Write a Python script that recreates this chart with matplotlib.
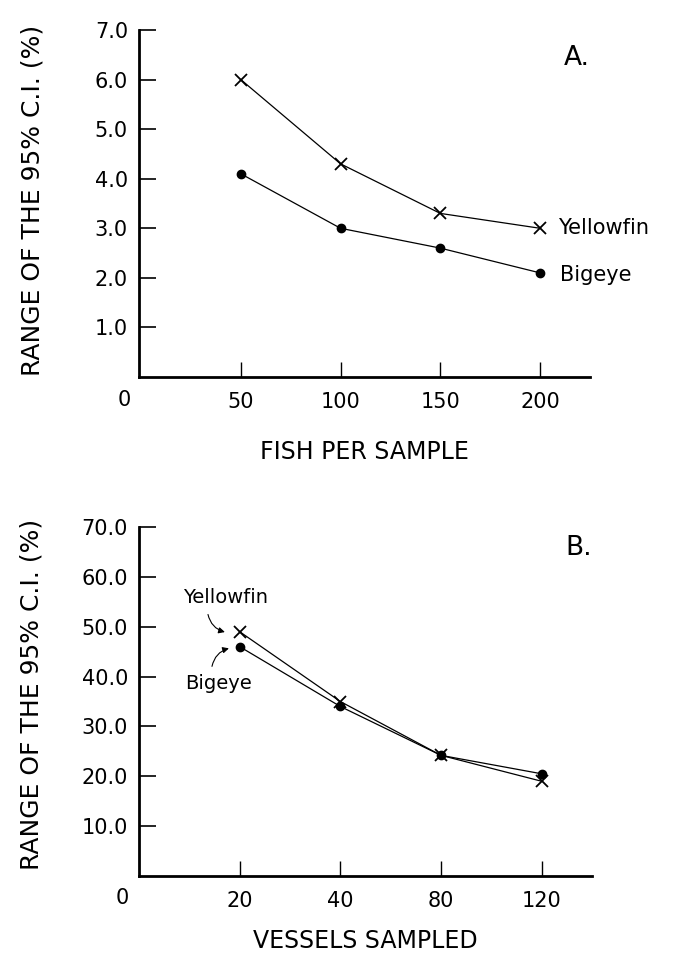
import matplotlib
matplotlib.use("Agg")
import matplotlib.pyplot as plt
import numpy as np

# Panel A data
fish_per_sample = [50, 100, 150, 200]
yellowfin_a = [6.0, 4.3, 3.3, 3.0]
bigeye_a = [4.1, 3.0, 2.6, 2.1]
yticks_a = [1.0, 2.0, 3.0, 4.0, 5.0, 6.0, 7.0]

# Panel B data
vessels_sampled = ["20", "40", "80", "120"]
yellowfin_b = [49.0, 35.0, 24.2, 19.0]
bigeye_b = [46.0, 34.0, 24.2, 20.5]
yticks_b = [10.0, 20.0, 30.0, 40.0, 50.0, 60.0, 70.0]

plt.rcParams['font.family'] = ['DejaVu Sans']
DPI = 100
fig = plt.figure(figsize=(6.8, 9.55), dpi=DPI)

W, H = 680, 955
def box(l, t, r, b):
    return [l / W, 1 - b / H, (r - l) / W, (b - t) / H]

axA = fig.add_axes(box(139, 30, 590, 377))
axB = fig.add_axes(box(139, 527, 592, 876))

TICK_FS = 15

def style(ax):
    for s in ['top', 'right']:
        ax.spines[s].set_visible(False)
    for s in ['left', 'bottom']:
        ax.spines[s].set_linewidth(2.0)
    ax.tick_params(axis='y', direction='in', length=12, width=1.2, pad=8, labelsize=TICK_FS)
    ax.tick_params(axis='x', direction='in', length=11, width=1.0, pad=11, labelsize=TICK_FS)

# ---- Panel A ----
axA.plot(fish_per_sample, yellowfin_a, color='black', lw=0.9, marker='x',
         markersize=9, markeredgewidth=1.3)
axA.plot(fish_per_sample, bigeye_a, color='black', lw=0.9, marker='o',
         markersize=6)
axA.set_xlim(-1, 225)
axA.set_ylim(0, 7.0)
axA.set_yticks(yticks_a)
axA.set_yticklabels([f"{v:.1f}" for v in yticks_a])
axA.set_xticks(fish_per_sample)
axA.set_xticklabels([str(v) for v in fish_per_sample])
style(axA)
axA.annotate("0", xy=(0, 0), xytext=(-17, -23), textcoords='offset pixels',
             ha='center', va='center', fontsize=TICK_FS)
axA.set_xlabel("FISH PER SAMPLE", fontsize=17, labelpad=20)
axA.set_ylabel("RANGE OF THE 95% C.I. (%)", fontsize=18)
axA.yaxis.set_label_coords(-0.21, 0.51)
axA.text(fish_per_sample[-1] + 9, yellowfin_a[-1], "Yellowfin",
         fontsize=15, ha='left', va='center')
axA.text(fish_per_sample[-1] + 10, bigeye_a[-1] - 0.05, "Bigeye",
         fontsize=15, ha='left', va='center')
axA.text(1.0, 0.92, "A.", transform=axA.transAxes, fontsize=19,
         ha='right', va='center')

# ---- Panel B ----
pos = np.arange(1, len(vessels_sampled) + 1)
axB.plot(pos, yellowfin_b, color='black', lw=0.9, marker='x',
         markersize=9, markeredgewidth=1.3)
axB.plot(pos, bigeye_b, color='black', lw=0.9, marker='o', markersize=6)
axB.set_xlim(0, 4.5)
axB.set_ylim(0, 70.0)
axB.set_yticks(yticks_b)
axB.set_yticklabels([f"{v:.1f}" for v in yticks_b])
axB.set_xticks(pos)
axB.set_xticklabels(vessels_sampled)
style(axB)
axB.annotate("0", xy=(0, 0), xytext=(-17, -22), textcoords='offset pixels',
             ha='center', va='center', fontsize=TICK_FS)
axB.set_xlabel("VESSELS SAMPLED", fontsize=17, labelpad=13)
axB.set_ylabel("RANGE OF THE 95% C.I. (%)", fontsize=18)
axB.yaxis.set_label_coords(-0.21, 0.52)
axB.text(1.0, 0.94, "B.", transform=axB.transAxes, fontsize=19,
         ha='right', va='center')
axB.text(0.44, 55.9, "Yellowfin", fontsize=14, ha='left', va='center')
axB.text(0.46, 38.7, "Bigeye", fontsize=14, ha='left', va='center')
axB.annotate("", xy=(0.88, 48.8), xytext=(0.68, 53.0),
             arrowprops=dict(arrowstyle='-|>', color='black', lw=0.8,
                             mutation_scale=9,
                             connectionstyle='arc3,rad=0.35'))
axB.annotate("", xy=(0.92, 45.8), xytext=(0.72, 41.5),
             arrowprops=dict(arrowstyle='-|>', color='black', lw=0.8,
                             mutation_scale=9,
                             connectionstyle='arc3,rad=-0.35'))

fig.savefig("out.png", dpi=DPI)
